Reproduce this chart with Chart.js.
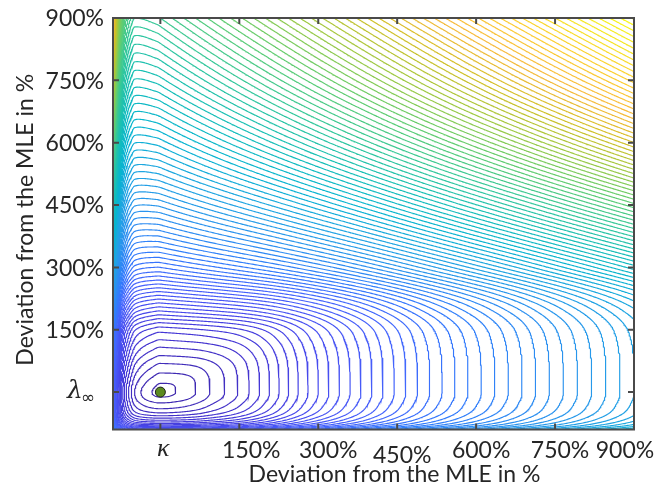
<!DOCTYPE html>
<html><head><meta charset="utf-8">
<script src="https://cdn.jsdelivr.net/npm/chart.js@4.4.1/dist/chart.umd.min.js"></script>
<style>html,body{margin:0;padding:0;background:#fff;}#wrap{width:672px;height:485px;position:relative;}</style>
</head><body><div id="wrap"><canvas id="c" width="672" height="485"></canvas></div>
<script>
// ---- axis data ----
const axisMin = -90, axisMax = 900;
const tickValues = [0, 150, 300, 450, 600, 750, 900];
const xTickLabels = ['κ', '150%', '300%', '450%', '600%', '750%', '900%'];
const yTickLabels = ['λ∞', '150%', '300%', '450%', '600%', '750%', '900%'];
const axisTitle = 'Deviation from the MLE in %';
const mlePoint = [{x: 0, y: 0}];

// ---- surface, in contour-level units (level count from the MLE) ----
// along the MLE row (ratio to the MLE of the x parameter)
const rowLeftU = [0.1, 0.15, 0.2, 0.25, 0.33, 0.42, 0.51, 0.63, 0.84, 1];
const rowLeftLevel = [22, 16, 12, 9, 6, 4, 2.5, 1.5, 0.5, 0];
const rowRightU = [1, 1.29, 1.67, 1.94, 2.22, 2.47, 4, 6, 8, 10];
const rowRightLevel = [0, 0.5, 1.5, 2.5, 3.5, 4.5, 12.5, 22, 30, 37.5];
// along the MLE column (ratio to the MLE of the y parameter)
const colLowV = [0.1, 0.2, 0.3, 0.4, 0.5, 0.6, 0.74, 0.88, 1];
const colLowLevel = [15, 10, 7, 5, 3.5, 2.5, 1.5, 0.5, 0];
const colHighV = [1, 1.21, 1.46, 1.69, 1.88, 2.08, 2.26, 2.44, 3, 4, 6, 8, 10];
const colHighLevel = [0, 0.5, 1.5, 2.5, 3.5, 4.5, 5.5, 6.5, 12, 22.5, 37, 48.5, 58.5];
// growth of the upper contours towards the right (levels per unit ratio)
const topSlopeV = [1, 2, 3, 4, 6, 8, 10];
const topSlopeLevel = [0, 0.35, 0.95, 1.8, 3.0, 3.9, 4.5];
// widening of the left band with height (relative)
const leftBandV = [1, 5, 10];
const leftBandGain = [1, 1.05, 1.55];

// MATLAB parula (every 4th row of the 64-row table)
const parula = [
  [0.2422, 0.1504, 0.6603], [0.2706, 0.2147, 0.8364], [0.2813, 0.3006, 0.9414], [0.2699, 0.3892, 0.9906],
  [0.1963, 0.4847, 0.9892], [0.1687, 0.5703, 0.9359], [0.1248, 0.6459, 0.8883], [0.0297, 0.7082, 0.8163],
  [0.0964, 0.7500, 0.7120], [0.2161, 0.7843, 0.5923], [0.3909, 0.8029, 0.4354], [0.6174, 0.7876, 0.2612],
  [0.8203, 0.7498, 0.1535], [0.9728, 0.7298, 0.2394], [0.9892, 0.8136, 0.1885], [0.9597, 0.9135, 0.1423],
  [0.9769, 0.9839, 0.0805]
];
const parulaPos = parula.map((_, i) => Math.min(1, i * 4 / 63));

// ---- helpers ----
function pchip(xs, ys, zeroStart, zeroEnd) {
  const n = xs.length, h = [], d = [], m = new Array(n);
  for (let i = 0; i < n - 1; i++) { h[i] = xs[i + 1] - xs[i]; d[i] = (ys[i + 1] - ys[i]) / h[i]; }
  m[0] = zeroStart ? 0 : d[0]; m[n - 1] = zeroEnd ? 0 : d[n - 2];
  for (let i = 1; i < n - 1; i++) {
    if (d[i - 1] * d[i] <= 0) m[i] = 0;
    else { const w1 = 2 * h[i] + h[i - 1], w2 = h[i] + 2 * h[i - 1]; m[i] = (w1 + w2) / (w1 / d[i - 1] + w2 / d[i]); }
  }
  return function (x) {
    if (x <= xs[0]) return ys[0] + m[0] * (x - xs[0]);
    if (x >= xs[n - 1]) return ys[n - 1] + m[n - 1] * (x - xs[n - 1]);
    let i = 0; while (x > xs[i + 1]) i++;
    const t = (x - xs[i]) / h[i], t2 = t * t, t3 = t2 * t;
    return (2 * t3 - 3 * t2 + 1) * ys[i] + (t3 - 2 * t2 + t) * h[i] * m[i] + (-2 * t3 + 3 * t2) * ys[i + 1] + (t3 - t2) * h[i] * m[i + 1];
  };
}
const GL = pchip(rowLeftU, rowLeftLevel, false, true);
const GR = pchip(rowRightU, rowRightLevel, true, false);
const HB = pchip(colLowV, colLowLevel, false, true);
const HT = pchip(colHighV, colHighLevel, true, false);
const ST = pchip(topSlopeV, topSlopeLevel, true, false);
const LG = pchip(leftBandV, leftBandGain, false, false);
function pn(a, b, p) { return Math.pow(Math.pow(a, p) + Math.pow(b, p), 1 / p); }
function surface(u, v) {
  let gl = 0;
  if (u < 1) {
    let m = 1;
    if (v > 1) {
      const wb = Math.min(1, Math.max(0, (0.5 - u) / 0.35));
      const s = Math.min(1, (v - 1) / 4);
      m = (1 - 0.5 * s) * (1 - wb) + LG(v) * wb;
    }
    gl = GL(u) * m;
  }
  const gr = u > 1 ? GR(u) : 0;
  const hb = v < 1 ? HB(v) : 0;
  const ht = v > 1 ? Math.max(0, HT(v) + (u - 1) * ST(v)) : 0;
  const top = pn(gr, ht, 3);
  return pn(top + gl, hb, 1.5);
}
function cmap(t) {
  t = Math.max(0, Math.min(1, t));
  let i = 0; while (i < parula.length - 2 && t > parulaPos[i + 1]) i++;
  const f = Math.min(1, (t - parulaPos[i]) / (parulaPos[i + 1] - parulaPos[i]));
  const a = parula[i], b = parula[i + 1];
  return 'rgb(' + [0, 1, 2].map(k => Math.round(255 * (a[k] + (b[k] - a[k]) * f))).join(',') + ')';
}

// ---- grid + marching squares ----
const NX = 420, NY = 340;
const gx = [], gy = [];
for (let i = 0; i < NX; i++) gx.push(axisMin + (axisMax - axisMin) * i / (NX - 1));
for (let j = 0; j < NY; j++) gy.push(axisMin + (axisMax - axisMin) * j / (NY - 1));
const Z = new Float64Array(NX * NY);
let zmin = Infinity, zmax = -Infinity;
for (let j = 0; j < NY; j++) for (let i = 0; i < NX; i++) {
  const z = surface(1 + gx[i] / 100, 1 + gy[j] / 100);
  Z[j * NX + i] = z; if (z < zmin) zmin = z; if (z > zmax) zmax = z;
}
function contour(L) {
  const P = new Map(), adj = new Map();
  function pt(id) {
    if (P.has(id)) return id;
    const cell = id >> 1, i = cell % NX, j = (cell - i) / NX;
    let x, y;
    if ((id & 1) === 0) { const a = Z[j * NX + i], b = Z[j * NX + i + 1], t = (L - a) / (b - a); x = gx[i] + t * (gx[i + 1] - gx[i]); y = gy[j]; }
    else { const a = Z[j * NX + i], b = Z[(j + 1) * NX + i], t = (L - a) / (b - a); x = gx[i]; y = gy[j] + t * (gy[j + 1] - gy[j]); }
    P.set(id, {x, y}); return id;
  }
  function link(a, b) { pt(a); pt(b); if (!adj.has(a)) adj.set(a, []); if (!adj.has(b)) adj.set(b, []); adj.get(a).push(b); adj.get(b).push(a); }
  for (let j = 0; j < NY - 1; j++) for (let i = 0; i < NX - 1; i++) {
    const a = Z[j * NX + i], b = Z[j * NX + i + 1], c = Z[(j + 1) * NX + i + 1], d = Z[(j + 1) * NX + i];
    const code = (a > L ? 1 : 0) | (b > L ? 2 : 0) | (c > L ? 4 : 0) | (d > L ? 8 : 0);
    if (code === 0 || code === 15) continue;
    const B = (j * NX + i) * 2, R = (j * NX + i + 1) * 2 + 1, T = ((j + 1) * NX + i) * 2, Lf = (j * NX + i) * 2 + 1;
    switch (code) {
      case 1: case 14: link(Lf, B); break;
      case 2: case 13: link(B, R); break;
      case 3: case 12: link(Lf, R); break;
      case 4: case 11: link(R, T); break;
      case 6: case 9: link(B, T); break;
      case 7: case 8: link(Lf, T); break;
      case 5: case 10: {
        const ctr = (a + b + c + d) / 4;
        if ((ctr > L) === (code === 5)) { link(Lf, T); link(B, R); } else { link(Lf, B); link(R, T); }
        break;
      }
    }
  }
  const used = new Set(), out = [];
  function walk(start) {
    let prev = -1, cur = start; const line = [];
    while (cur !== undefined && !used.has(cur)) {
      used.add(cur); line.push(P.get(cur));
      const nb = adj.get(cur); let nxt;
      for (const n of nb) if (n !== prev && !used.has(n)) { nxt = n; break; }
      if (nxt === undefined) { for (const n of nb) if (n === start && line.length > 2) line.push(P.get(start)); }
      prev = cur; cur = nxt;
    }
    if (line.length > 1) { for (const p of line) out.push(p); out.push({x: NaN, y: NaN}); }
  }
  for (const [id, nb] of adj) if (nb.length === 1 && !used.has(id)) walk(id);
  for (const [id] of adj) if (!used.has(id)) walk(id);
  return out;
}

const datasets = [{
  data: mlePoint, order: 0, showLine: false, pointRadius: 5, pointHoverRadius: 5,
  pointBackgroundColor: '#5b8a1f', pointBorderColor: '#1e1e1e', pointBorderWidth: 1
}];
for (let L = Math.ceil(zmin + 0.5) - 0.5; L < zmax; L += 1) {
  datasets.push({
    data: contour(L), order: 1, showLine: true, spanGaps: false, pointRadius: 0,
    borderColor: cmap((L - zmin) / (zmax - zmin)), borderWidth: 1.15, tension: 0, fill: false
  });
}

// ---- frame, ticks and text ----
const INK = '#262626', AXIS = '#4a4a4a';
const FONT = 'Lato, "Liberation Sans", sans-serif';
const xLabelNudge = [3, 12, 10, 5, 5, 5, -9];
const framePlugin = {
  id: 'frame',
  afterDraw(chart) {
    const {ctx, chartArea: a, scales: {x, y}} = chart;
    ctx.save();
    ctx.strokeStyle = AXIS; ctx.lineWidth = 2;
    ctx.strokeRect(a.left, a.top, a.right - a.left, a.bottom - a.top);
    const tl = 6;
    ctx.beginPath();
    tickValues.forEach(v => {
      const px = x.getPixelForValue(v), py = y.getPixelForValue(v);
      ctx.moveTo(px, a.bottom); ctx.lineTo(px, a.bottom - tl);
      ctx.moveTo(px, a.top); ctx.lineTo(px, a.top + tl);
      ctx.moveTo(a.left, py); ctx.lineTo(a.left + tl, py);
      ctx.moveTo(a.right, py); ctx.lineTo(a.right - tl, py);
    });
    ctx.stroke();
    ctx.fillStyle = INK;
    ctx.textAlign = 'right'; ctx.textBaseline = 'middle';
    tickValues.forEach((v, i) => {
      const py = y.getPixelForValue(v);
      if (i === 0) {
        ctx.font = 'italic 25px "DejaVu Serif", serif';
        ctx.textAlign = 'left';
        ctx.fillText('λ', 67, py - 1);
        ctx.font = '17px "DejaVu Sans", sans-serif';
        ctx.fillText('∞', 81, py + 6);
        ctx.textAlign = 'right';
      } else {
        ctx.font = '23px ' + FONT;
        ctx.fillText(yTickLabels[i], 104, py + 1);
      }
    });
    ctx.textAlign = 'center'; ctx.textBaseline = 'alphabetic';
    tickValues.forEach((v, i) => {
      const px = x.getPixelForValue(v) + xLabelNudge[i];
      if (i === 0) { ctx.font = 'italic 26px "Liberation Serif", serif'; ctx.fillText(xTickLabels[i], px, 456); }
      else { ctx.font = '23px ' + FONT; ctx.fillText(xTickLabels[i], px, i === 3 ? 463 : 458); }
    });
    ctx.font = '23px ' + FONT;
    ctx.fillText(axisTitle, (a.left + a.right) / 2 + 21, 482);
    ctx.save(); ctx.translate(33, (a.top + a.bottom) / 2 - 4); ctx.rotate(-Math.PI / 2);
    ctx.fillText(axisTitle, 0, 0); ctx.restore();
    ctx.restore();
  }
};

new Chart(document.getElementById('c'), {
  type: 'scatter',
  data: {datasets},
  options: {
    responsive: false, animation: false, events: [],
    layout: {padding: {left: 113, right: 38, top: 18, bottom: 55.5}},
    plugins: {legend: {display: false}, tooltip: {enabled: false}},
    scales: {
      x: {type: 'linear', min: axisMin, max: axisMax, display: false},
      y: {type: 'linear', min: axisMin, max: axisMax, display: false}
    }
  },
  plugins: [framePlugin]
});
</script></body></html>
